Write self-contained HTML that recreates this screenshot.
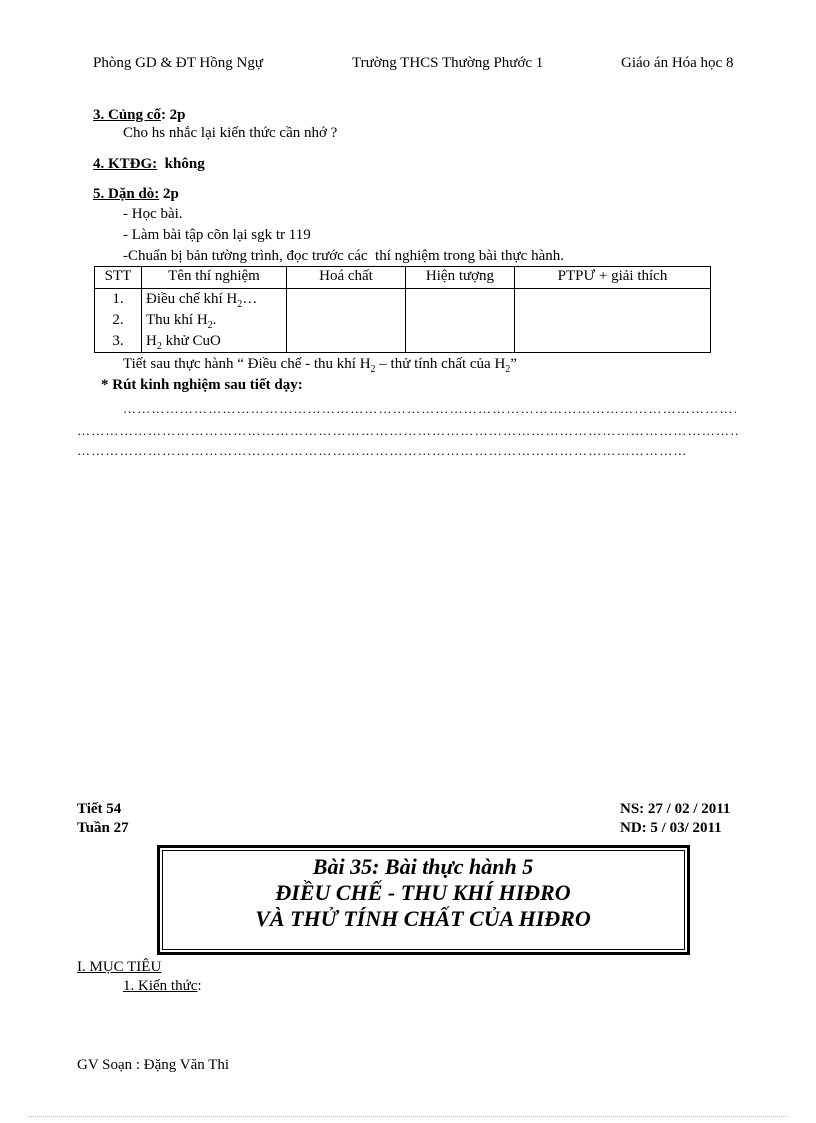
<!DOCTYPE html>
<html><head><meta charset="utf-8"><style>
body{margin:0;width:816px;height:1123px;background:#fff;position:relative;font-family:"Liberation Serif",serif;color:#000;overflow:hidden}
.a{position:absolute;white-space:nowrap;font-size:15px;line-height:18px}
.b{font-weight:bold}
.u{text-decoration:underline}
table{position:absolute;left:94px;top:266px;border-collapse:collapse;font-size:15px}
td{border:1px solid #000;padding:0 4px;line-height:19px;vertical-align:top}
sub{font-size:10px;line-height:0}
.t{position:absolute;left:0;width:846px;text-align:center;font-size:22px;font-weight:bold;font-style:italic;line-height:26px}
.d{position:absolute;overflow:hidden;white-space:nowrap;font-size:13px;line-height:18px;letter-spacing:1.2px}
</style></head><body>
<div class="a" style="left:93px;top:54px">Phòng GD &amp; ĐT Hồng Ngự</div>
<div class="a" style="left:352px;top:54px">Trường THCS Thường Phước 1</div>
<div class="a" style="left:621px;top:54px">Giáo án Hóa học 8</div>

<div class="a b" style="left:93px;top:106px"><span class="u">3. Củng cố</span>: 2p</div>
<div class="a" style="left:123px;top:124px">Cho hs nhắc lại kiến thức cần nhớ ?</div>
<div class="a b" style="left:93px;top:155px"><span class="u">4. KTĐG:</span>&nbsp; không</div>
<div class="a b" style="left:93px;top:185px"><span class="u">5. Dặn dò:</span> 2p</div>
<div class="a" style="left:123px;top:205px">- Học bài.</div>
<div class="a" style="left:123px;top:226px">- Làm bài tập cõn lại sgk tr 119</div>
<div class="a" style="left:123px;top:247px">-Chuẩn bị bản tường trình, đọc trước các&nbsp; thí nghiệm trong bài thực hành.</div>

<table>
<tr style="height:22px"><td style="width:38px;text-align:center">STT</td><td style="width:136px;text-align:center">Tên thí nghiệm</td><td style="width:110px;text-align:center">Hoá chất</td><td style="width:100px;text-align:center">Hiện tượng</td><td style="width:187px;text-align:center">PTPƯ + giải thích</td></tr>
<tr style="height:64px"><td style="text-align:center;line-height:21px">1.<br>2.<br>3.</td><td style="line-height:21px">Điều chế khí H<sub>2</sub>…<br>Thu khí H<sub>2</sub>.<br>H<sub>2</sub> khử CuO</td><td></td><td></td><td></td></tr>
</table>

<div class="a" style="left:123px;top:355px">Tiết sau thực hành “ Điều chế - thu khí H<sub>2</sub> – thử tính chất của H<sub>2</sub>”</div>
<div class="a b" style="left:101px;top:376px">* Rút kinh nghiệm sau tiết dạy:</div>
<div class="d" style="left:123px;top:400px;width:613px">…………………………………………………………………………………………………………………………………………</div>
<div class="d" style="left:77px;top:422px;width:661px">…………………………………………………………………………………………………………………………………………</div>
<div class="d" style="left:77px;top:442px;width:610px">…………………………………………………………………………………………………………………………………………</div>

<div class="a b" style="left:77px;top:800px">Tiết 54</div>
<div class="a b" style="left:77px;top:819px">Tuần 27</div>
<div class="a b" style="left:620px;top:800px">NS: 27 / 02 / 2011</div>
<div class="a b" style="left:620px;top:819px">ND: 5 / 03/ 2011</div>

<div style="position:absolute;left:157px;top:845px;width:527px;height:104px;border:3px solid #000"></div>
<div style="position:absolute;left:162px;top:850px;width:521px;height:98px;border:1px solid #000"></div>
<div class="t" style="top:854px">Bài 35: Bài thực hành 5</div>
<div class="t" style="top:880px">ĐIỀU CHẾ - THU KHÍ HIĐRO</div>
<div class="t" style="top:906px">VÀ THỬ TÍNH CHẤT CỦA HIĐRO</div>

<div class="a u" style="left:77px;top:958px">I. MỤC TIÊU</div>
<div class="a" style="left:123px;top:977px"><span class="u">1. Kiến thức</span>:</div>

<div class="a" style="left:77px;top:1056px">GV Soạn : Đặng Văn Thi</div>
<div style="position:absolute;left:28px;top:1116px;width:760px;border-top:1px dotted #bbb"></div>
</body></html>
